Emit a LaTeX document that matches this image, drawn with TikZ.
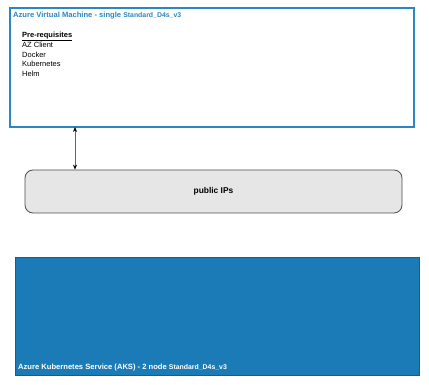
\documentclass[tikz,border=0pt]{standalone}
\usepackage{fontspec}
\setmainfont{Liberation Sans}
\usetikzlibrary{arrows.meta}
\definecolor{azureblue}{HTML}{1B7BB7}
\definecolor{vmborder}{HTML}{2A86C4}
\definecolor{ipfill}{HTML}{E6E6E6}
\definecolor{ipborder}{HTML}{4D4D4D}
\newcommand{\sku}{{\fontsize{6.9}{7}\selectfont Standard\_D4s\_v3}}
\tikzset{
  vmbox/.style={draw=vmborder, line width=2.2pt, fill=white},
  ipbox/.style={draw=ipborder, line width=0.8pt, fill=ipfill, rounded corners=8pt},
  aksbox/.style={draw=ipborder, line width=0.8pt, fill=azureblue},
  boxtitle/.style={font=\bfseries\fontsize{7.6}{8}\selectfont, anchor=west, inner sep=0pt},
  bodytext/.style={font=\fontsize{7.5}{9.4}\selectfont, anchor=north west, inner sep=0pt, align=left},
  link/.style={draw=black!60, line width=0.8pt, {Stealth[length=5pt,width=4pt,black]}-{Stealth[length=5pt,width=4pt,black]}}
}
\begin{document}
\begin{tikzpicture}[x=1pt,y=-1pt]
\useasboundingbox (0,0) rectangle (429,385);
% virtual machine box
\draw[vmbox] (10,8) rectangle (414,127);
\node[boxtitle, text=vmborder] (vmtitle) at (13,15.5)
  {Azure Virtual Machine - single \sku};
\node[bodytext, font=\bfseries\fontsize{7.5}{9.4}\selectfont] (prereq) at (22,32) {Pre-requisites};
\draw[line width=0.6pt] ([yshift=-1pt]prereq.south west) -- ([yshift=-1pt]prereq.south east);
\node[bodytext] (tools) at (22,42.2)
  {AZ Client\\Docker\\Kubernetes\\Helm};
\coordinate (vmbottom) at (75,127);
% public IPs
\node[ipbox, minimum width=377pt, minimum height=43pt, font=\bfseries\fontsize{8.4}{9}\selectfont] (ips) at (213.5,191.5) {public IPs};
\draw[link] (vmbottom) -- (ips.north -| vmbottom);
% AKS cluster
\draw[aksbox] (15,257) rectangle (419,375);
\node[boxtitle, text=white] (akstitle) at (18,368)
  {Azure Kubernetes Service (AKS) - 2 node \sku};
\end{tikzpicture}
\end{document}
